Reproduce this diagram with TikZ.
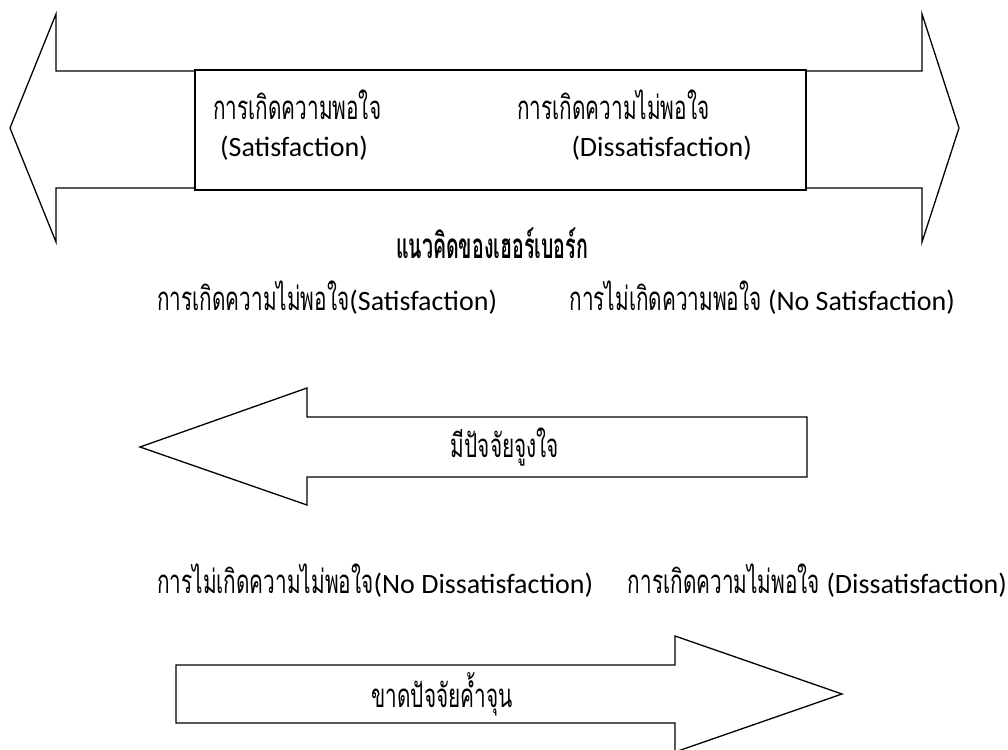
\documentclass[tikz,border=0pt]{standalone}
\usepackage{fontspec}
\setmainfont{Carlito}
\newfontfamily\thai[Script=Thai,FakeStretch=0.63]{Loma}
\newfontfamily\thaititle[Script=Thai,FakeStretch=0.56]{Loma}
\newcommand\thtxt[1]{{\thai\fontsize{33}{36}\selectfont #1}}
\begin{document}
\begin{tikzpicture}[x=1pt,y=-1pt,
  arrowshape/.style={draw=black,line width=1.3pt,line join=miter,fill=white},
  boxshape/.style={draw=black,line width=1.8pt,fill=white},
  lbl/.style={inner sep=0pt,font=\fontsize{28}{32}\selectfont,anchor=west},
  lble/.style={lbl,anchor=east},
  thaicap/.style={inner sep=0pt,font=\fontsize{33}{36}\selectfont\thai}]
\useasboundingbox (0,0) rectangle (1008,749);
\clip (0,0) rectangle (1008,749);
% top double arrow with central box
\draw[arrowshape] (10,128) -- (56,14) -- (56,71) -- (922,71) -- (922,14) -- (959,128)
  -- (922,242) -- (922,188) -- (56,188) -- (56,242) -- cycle;
\draw[boxshape] (195,70) rectangle (806,190);
\node[lbl] (sa) at (213,105) {\thtxt{การเกิดความพอใจ}};
\node[lbl] (sb) at (220,148) {(Satisfaction)};
\node[lbl] (da) at (517,105) {\thtxt{การเกิดความไม่พอใจ}};
\node[lble] (db) at (752,148) {(Dissatisfaction)};
% title
\node[inner sep=0pt,font=\fontsize{35}{38}\selectfont\thaititle\bfseries] (title) at (492,243) {แนวคิดของเฮอร์เบอร์ก};
% line 2
\node[lbl] (la) at (157,298) {\thtxt{การเกิดความไม่พอใจ}(Satisfaction)};
\node[lble] (lb) at (955,298) {\thtxt{การไม่เกิดความพอใจ} (No Satisfaction)};
% left arrow
\draw[arrowshape] (140,447) -- (307,388) -- (307,417) -- (807,417) -- (807,477)
  -- (307,477) -- (307,505) -- cycle;
\node[thaicap] (mot) at (505,447) {มีปัจจัยจูงใจ};
% line 4
\node[lbl] (na) at (157,581) {\thtxt{การไม่เกิดความไม่พอใจ}(No Dissatisfaction)};
\node[lble] (nb) at (1007,581) {\thtxt{การเกิดความไม่พอใจ} (Dissatisfaction)};
% bottom arrow
\draw[arrowshape] (176,665) -- (675,665) -- (675,636) -- (842,694) -- (675,752)
  -- (675,723) -- (176,723) -- cycle;
\node[thaicap] (hyg) at (442,694) {ขาดปัจจัยค้ำจุน};
\end{tikzpicture}
\end{document}
